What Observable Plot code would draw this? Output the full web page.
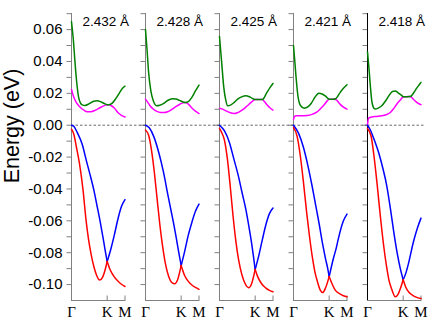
<!DOCTYPE html>
<html><head><meta charset="utf-8">
<script src="https://cdn.jsdelivr.net/npm/d3@7"></script>
<script src="https://cdn.jsdelivr.net/npm/@observablehq/plot@0.6"></script>
<style>html,body{margin:0;padding:0;background:#fff}</style>
</head><body><div id="chart"></div>
<script>
// Panels (bond length)
const panels = ["2.432 Å", "2.428 Å", "2.425 Å", "2.421 Å", "2.418 Å"];
// k-path ticks: Γ (0), K (1), M (1.5)
const kTicks = [0, 1, 1.5];
const kLabels = ["Γ", "K", "M"];
const yTicks = [-0.10, -0.09, -0.08, -0.07, -0.06, -0.05, -0.04, -0.03, -0.02, -0.01, 0, 0.01, 0.02, 0.03, 0.04, 0.05, 0.06, 0.07];
const yLabelTicks = [-0.10, -0.08, -0.06, -0.04, -0.02, 0, 0.02, 0.04, 0.06];

// Upper conduction band (green), per panel: [k, E]
const bandGreen = [
  [[0,.065],[.05,.054],[.1,.039],[.15,.026],[.2,.0175],[.25,.014],[.3,.0128],[.38,.0124],[.5,.0135],[.62,.0150],[.72,.0153],[.82,.0147],[.92,.0136],[1,.0129],[1.05,.0129],[1.15,.0140],[1.25,.0170],[1.35,.0205],[1.43,.0232],[1.5,.0245]],
  [[0,.060],[.044,.047],[.088,.033],[.15,.0216],[.22,.0153],[.31,.0122],[.4,.0125],[.5,.0135],[.62,.0155],[.75,.0166],[.85,.0164],[.95,.0156],[1.05,.0146],[1.12,.0143],[1.2,.0148],[1.3,.0175],[1.4,.0215],[1.5,.0252]],
  [[0,.0557],[.064,.0385],[.12,.0237],[.18,.0153],[.23,.0122],[.32,.0128],[.42,.0145],[.51,.0164],[.62,.0178],[.74,.0185],[.87,.0175],[1.0,.0161],[1.1,.0161],[1.2,.0161],[1.33,.0206],[1.42,.0237],[1.5,.0262]],
  [[0,.050],[.03,.042],[.065,.032],[.13,.0174],[.2,.0122],[.3,.0107],[.4,.0115],[.5,.0138],[.6,.0175],[.71,.0200],[.8,.0196],[.9,.0182],[1.0,.0163],[1.1,.0163],[1.18,.0166],[1.25,.0185],[1.31,.0206],[1.4,.0232],[1.5,.0254]],
  [[0,.046],[.04,.036],[.075,.026],[.12,.0153],[.16,.0115],[.21,.0101],[.3,.0107],[.4,.0122],[.5,.0150],[.6,.0185],[.7,.0212],[.78,.0214],[.86,.0203],[.94,.0190],[1.01,.0179],[1.1,.0179],[1.2,.018],[1.3,.0205],[1.38,.0233],[1.45,.0254],[1.5,.0269]]
];
// Lower conduction band (magenta)
const bandMagenta = [
  [[0,.0225],[.05,.0185],[.11,.0153],[.18,.0128],[.25,.0111],[.35,.0094],[.44,.0085],[.55,.0085],[.65,.0092],[.75,.0104],[.85,.0116],[.95,.0126],[1.05,.0129],[1.12,.0122],[1.2,.0108],[1.3,.0080],[1.4,.0062],[1.5,.0052]],
  [[0,.0164],[.05,.0148],[.12,.0124],[.22,.0101],[.32,.0087],[.42,.008],[.52,.0079],[.62,.0084],[.75,.0101],[.85,.0116],[.95,.0130],[1.05,.0140],[1.12,.0143],[1.2,.0132],[1.3,.0108],[1.4,.0088],[1.5,.0073]],
  [[0,.0107],[.14,.0095],[.28,.0080],[.41,.0073],[.5,.0078],[.6,.009],[.7,.0106],[.78,.0122],[.88,.0142],[1.0,.0161],[1.1,.0161],[1.2,.0161],[1.27,.0145],[1.33,.0128],[1.42,.0108],[1.5,.0095]],
  [[0,.0036],[.03,.0055],[.08,.0059],[.2,.0059],[.38,.0061],[.52,.0068],[.65,.0082],[.75,.0102],[.85,.0125],[.93,.0148],[1.0,.0163],[1.1,.0163],[1.18,.0162],[1.3,.0133],[1.4,.0113],[1.5,.0101]],
  [[0,.0002],[.03,.0044],[.12,.0052],[.25,.0055],[.4,.0059],[.52,.0066],[.64,.008],[.73,.0103],[.82,.0132],[.92,.0158],[1.01,.0179],[1.1,.0179],[1.2,.018],[1.3,.0160],[1.38,.0143],[1.5,.0128]]
];
// Upper valence band (blue): Γ–K and K–M
const bandBlueGK = [
  [[0,0],[.07,-.0008],[.16,-.0045],[.3,-.012],[.42,-.0225],[.52,-.031],[.63,-.041],[.72,-.051],[.8,-.060],[.88,-.070],[.94,-.078],[1,-.0855]],
  [[0,0],[.1,-.0015],[.23,-.007],[.37,-.017],[.5,-.029],[.63,-.044],[.72,-.054],[.8,-.063],[.88,-.073],[.95,-.082],[1,-.088]],
  [[0,0],[.14,-.0036],[.28,-.011],[.4,-.021],[.52,-.031],[.64,-.043],[.74,-.053],[.82,-.063],[.9,-.074],[.95,-.082],[1,-.0905]],
  [[0,0],[.14,-.005],[.28,-.014],[.4,-.025],[.52,-.038],[.62,-.050],[.72,-.062],[.82,-.075],[.9,-.084],[.96,-.090],[1,-.095]],
  [[0,0],[.08,-.003],[.17,-.008],[.31,-.017],[.43,-.027],[.54,-.038],[.64,-.052],[.73,-.066],[.83,-.080],[.92,-.09],[1,-.097]]
];
const bandBlueKM = [
  [[1,-.0855],[1.1,-.078],[1.2,-.069],[1.3,-.059],[1.4,-.051],[1.5,-.0467]],
  [[1,-.088],[1.1,-.079],[1.2,-.069],[1.3,-.061],[1.4,-.054],[1.5,-.0495]],
  [[1,-.0905],[1.1,-.082],[1.2,-.072],[1.3,-.0625],[1.4,-.0555],[1.5,-.052]],
  [[1,-.095],[1.12,-.0835],[1.2,-.077],[1.26,-.071],[1.4,-.060],[1.5,-.0558]],
  [[1,-.097],[1.08,-.0925],[1.15,-.0867],[1.29,-.073],[1.4,-.0645],[1.5,-.0583]]
];
// Lower valence band (red): Γ–K and K–M
const bandRedGK = [
  [[0,-.0025],[.065,-.0057],[.14,-.014],[.22,-.0235],[.32,-.040],[.41,-.060],[.48,-.072],[.55,-.081],[.63,-.089],[.7,-.094],[.79,-.0972],[.87,-.0955],[.94,-.091],[1,-.0855]],
  [[0,-.003],[.09,-.0065],[.17,-.016],[.25,-.030],[.32,-.045],[.4,-.062],[.48,-.076],[.56,-.087],[.65,-.095],[.75,-.099],[.82,-.0995],[.9,-.097],[1,-.088]],
  [[0,-.002],[.07,-.005],[.14,-.0095],[.22,-.021],[.3,-.038],[.38,-.057],[.46,-.073],[.54,-.085],[.63,-.094],[.72,-.0995],[.82,-.102],[.9,-.0995],[1,-.0905]],
  [[0,-.0015],[.1,-.0068],[.19,-.019],[.28,-.036],[.37,-.055],[.45,-.07],[.53,-.083],[.6,-.092],[.67,-.098],[.75,-.1035],[.82,-.105],[.9,-.102],[1,-.095]],
  [[0,-.002],[.1,-.0068],[.18,-.019],[.27,-.037],[.36,-.057],[.45,-.075],[.53,-.088],[.6,-.097],[.68,-.103],[.78,-.1077],[.86,-.106],[.93,-.102],[1,-.097]]
];
const bandRedKM = [
  [[1,-.0855],[1.08,-.0905],[1.18,-.0945],[1.3,-.0978],[1.4,-.0998],[1.5,-.1012]],
  [[1,-.088],[1.1,-.0945],[1.2,-.098],[1.3,-.1003],[1.4,-.1018],[1.5,-.103]],
  [[1,-.0905],[1.08,-.0955],[1.18,-.0995],[1.3,-.1022],[1.4,-.1036],[1.5,-.1045]],
  [[1,-.095],[1.08,-.0995],[1.17,-.1035],[1.3,-.1058],[1.4,-.107],[1.5,-.1077]],
  [[1,-.097],[1.07,-.1015],[1.15,-.1045],[1.3,-.1072],[1.4,-.1082],[1.5,-.1088]]
];

const rows = [];
function addBand(band, seg, perPanel) {
  perPanel.forEach((pts, i) => pts.forEach(([k, E]) =>
    rows.push({panel: panels[i], band, seg: band + seg + i, k, E})));
}
addBand("c1", "a", bandMagenta);
addBand("c2", "a", bandGreen);
addBand("v1", "a", bandBlueGK);
addBand("v1", "b", bandBlueKM);
addBand("v2", "a", bandRedGK);
addBand("v2", "b", bandRedKM);

const fmt = d => (Math.abs(d) < 1e-9 ? 0 : d).toFixed(2);
const sans = "Liberation Sans, Arial, Helvetica, sans-serif";
const serif = "Liberation Serif, Times New Roman, serif";
const gray = "#808080";

const chart = Plot.plot({
  width: 436, height: 323,
  marginLeft: 71, marginRight: 15.5, marginTop: 13, marginBottom: 23,
  style: {fontFamily: sans, fontSize: "15px", background: "#fff", color: "#000"},
  fx: {domain: panels, paddingInner: 0.277, paddingOuter: 0, round: false, axis: null, label: null},
  x: {domain: [0, 1.5], axis: null},
  y: {domain: [-0.110, 0.0701], axis: null},
  color: {domain: ["c1", "c2", "v1", "v2"], range: ["#ff00ff", "#008000", "#0000ff", "#ff0000"]},
  marks: [
    Plot.frame({anchor: "left", stroke: gray}),
    Plot.frame({anchor: "left", stroke: "#000", facetAnchor: "right"}),
    Plot.frame({anchor: "bottom", stroke: gray}),
    Plot.axisY(yTicks, {tickSize: 4.5, tickFormat: () => "", facetAnchor: null, stroke: gray, label: null}),
    Plot.axisY(yLabelTicks, {tickSize: 0, tickPadding: 9, tickFormat: fmt, fontSize: 15, label: null}),
    Plot.axisX([1, 1.5], {tickSize: -4.5, tickFormat: () => "", stroke: gray, label: null}),
    Plot.axisX(kTicks, {tickSize: 0, tickPadding: 6, tickFormat: d => kLabels[kTicks.indexOf(d)], fontFamily: serif, fontSize: 15, label: null}),
    Plot.ruleY(panels.slice(0, 4), {fx: d => d, y: () => 0, insetRight: -20.5, stroke: "#444", strokeWidth: 0.8, strokeDasharray: "2.5,2"}),
    Plot.ruleY(panels.slice(4), {fx: d => d, y: () => 0, insetRight: -4.5, stroke: "#444", strokeWidth: 0.8, strokeDasharray: "2.5,2"}),
    Plot.line(rows, {fx: "panel", x: "k", y: "E", z: "seg", stroke: "band", strokeWidth: 1.5, curve: "monotone-x"}),
    Plot.text(panels, {fx: d => d, text: d => d, frameAnchor: "top-left", dx: 11, dy: 8, lineAnchor: "middle", textAnchor: "start", fontSize: 13.5}),
    Plot.text(["Energy (eV)"], {text: d => d, frameAnchor: "left", rotate: -90, dx: -59, dy: -31, textAnchor: "middle", lineAnchor: "middle", fontSize: 21.5, facetAnchor: "left"})
  ]
});
document.getElementById("chart").appendChild(chart);
</script></body></html>
